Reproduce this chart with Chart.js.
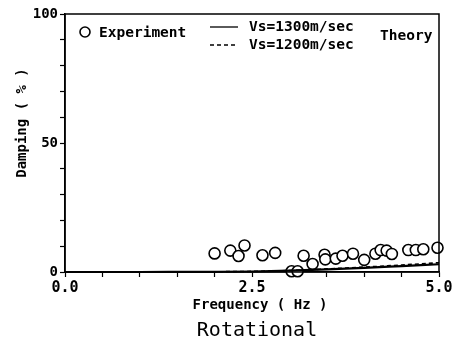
<!DOCTYPE html>
<html><head><meta charset="utf-8">
<script src="https://cdn.jsdelivr.net/npm/chart.js@4/dist/chart.umd.min.js"></script>
<style>html,body{margin:0;padding:0;background:#fff}#wrap{width:463px;height:351px;position:relative}</style>
</head><body><div id="wrap"><canvas id="c" width="463" height="351"></canvas></div>
<script>
const expFreq = [2.00,2.21,2.32,2.40,2.64,2.81,3.03,3.11,3.19,3.31,3.47,3.48,3.62,3.71,3.85,4.00,4.15,4.22,4.30,4.37,4.59,4.69,4.79,4.98];
const expDamp = [7.2,8.3,6.2,10.3,6.5,7.4,0.3,0.3,6.3,3.1,6.7,4.9,5.2,6.3,7.1,4.7,7.1,8.5,8.3,7.0,8.5,8.5,8.8,9.4];
const theoryFreq = [0,0.5,1.0,1.5,2.0,2.5,3.0,3.5,4.0,4.5,5.0];
const theory1300 = [0,0,0,0.03,0.08,0.2,0.5,1.0,1.6,2.3,3.0];
const theory1200 = [0,0,0,0.03,0.1,0.25,0.6,1.2,1.9,2.7,3.6];
const yLabels = [0,50,100];
const xLabels = [0,2.5,5];

const FONT = "'DejaVu Sans Mono', monospace";
const toXY = (xs, ys) => xs.map((x,i)=>({x:x,y:ys[i]}));

const overlay = {
  id:'overlay',
  afterDraw(chart){
    const {ctx, chartArea:a} = chart;
    ctx.save();
    ctx.strokeStyle='#000'; ctx.lineWidth=1.5;
    ctx.strokeRect(a.left, a.top, a.right-a.left, a.bottom-a.top);
    ctx.fillStyle='#000';
    ctx.font = "bold 14px "+FONT;
    ctx.textAlign='center'; ctx.textBaseline='middle';
    ctx.fillText('Frequency ( Hz )', 260, 305);
    ctx.font = "20px "+FONT;
    ctx.fillText('Rotational', 257, 331);
    ctx.save();
    ctx.translate(22, 123); ctx.rotate(-Math.PI/2);
    ctx.font = "bold 14px "+FONT;
    ctx.fillText('Damping ( % )', 0, 0);
    ctx.restore();
    ctx.textAlign='left';
    ctx.font = "bold 14.5px "+FONT;
    ctx.beginPath(); ctx.arc(85, 32, 5, 0, Math.PI*2);
    ctx.fillStyle='#fff'; ctx.fill(); ctx.lineWidth=1.6; ctx.stroke();
    ctx.fillStyle='#000';
    ctx.fillText('Experiment', 99, 33);
    ctx.lineWidth=1.3;
    ctx.beginPath(); ctx.moveTo(210,27); ctx.lineTo(238,27); ctx.stroke();
    ctx.setLineDash([4,3]);
    ctx.beginPath(); ctx.moveTo(210,45); ctx.lineTo(238,45); ctx.stroke();
    ctx.setLineDash([]);
    ctx.fillText('Vs=1300m/sec', 249, 27);
    ctx.fillText('Vs=1200m/sec', 249, 45);
    ctx.fillText('Theory', 380, 36);
    ctx.restore();
  }
};

new Chart(document.getElementById('c'), {
  type:'scatter',
  data:{datasets:[
    {label:'Vs=1300m/sec', type:'line', data:toXY(theoryFreq, theory1300), borderColor:'#000', borderWidth:2.2, pointRadius:0, fill:false, cubicInterpolationMode:'monotone'},
    {label:'Vs=1200m/sec', type:'line', data:toXY(theoryFreq, theory1200), borderColor:'#000', borderWidth:1.6, borderDash:[4,3], pointRadius:0, fill:false, cubicInterpolationMode:'monotone'},
    {label:'Experiment', data:toXY(expFreq, expDamp), pointRadius:5.5, pointBackgroundColor:'#fff', pointBorderColor:'#000', pointBorderWidth:1.6, showLine:false}
  ]},
  options:{
    responsive:false, animation:false, clip:false,
    layout:{padding:{top:14,right:24,left:0,bottom:0}},
    plugins:{legend:{display:false}, tooltip:{enabled:false}},
    scales:{
      x:{type:'linear', min:0, max:5,
        afterBuildTicks(s){ s.ticks = [0,0.5,1,1.5,2,2.5,3,3.5,4,4.5,5].map(v=>({value:v})); },
        afterFit(s){ s.height = 79; },
        border:{display:true,color:'#000',width:1.5},
        grid:{drawOnChartArea:false, color:'#000', tickLength:5, tickWidth:1.2},
        ticks:{color:'#000', padding:2, maxRotation:0, autoSkip:false, font:{family:FONT, size:15, weight:'bold'},
          callback:(v)=> xLabels.some(l=>Math.abs(l-v)<1e-6) ? v.toFixed(1) : ''}
      },
      y:{type:'linear', min:0, max:100,
        afterBuildTicks(s){ const t=[]; for(let v=0; v<=100; v+=10) t.push({value:v}); s.ticks=t; },
        afterFit(s){ s.width = 65; },
        border:{display:true,color:'#000',width:1.5},
        grid:{drawOnChartArea:false, color:'#000', tickLength:5, tickWidth:1.2},
        ticks:{color:'#000', padding:2, autoSkip:false, font:{family:FONT, size:14, weight:'bold'},
          callback:(v)=> yLabels.includes(v) ? String(v) : ''}
      }
    }
  },
  plugins:[overlay]
});
</script></body></html>
